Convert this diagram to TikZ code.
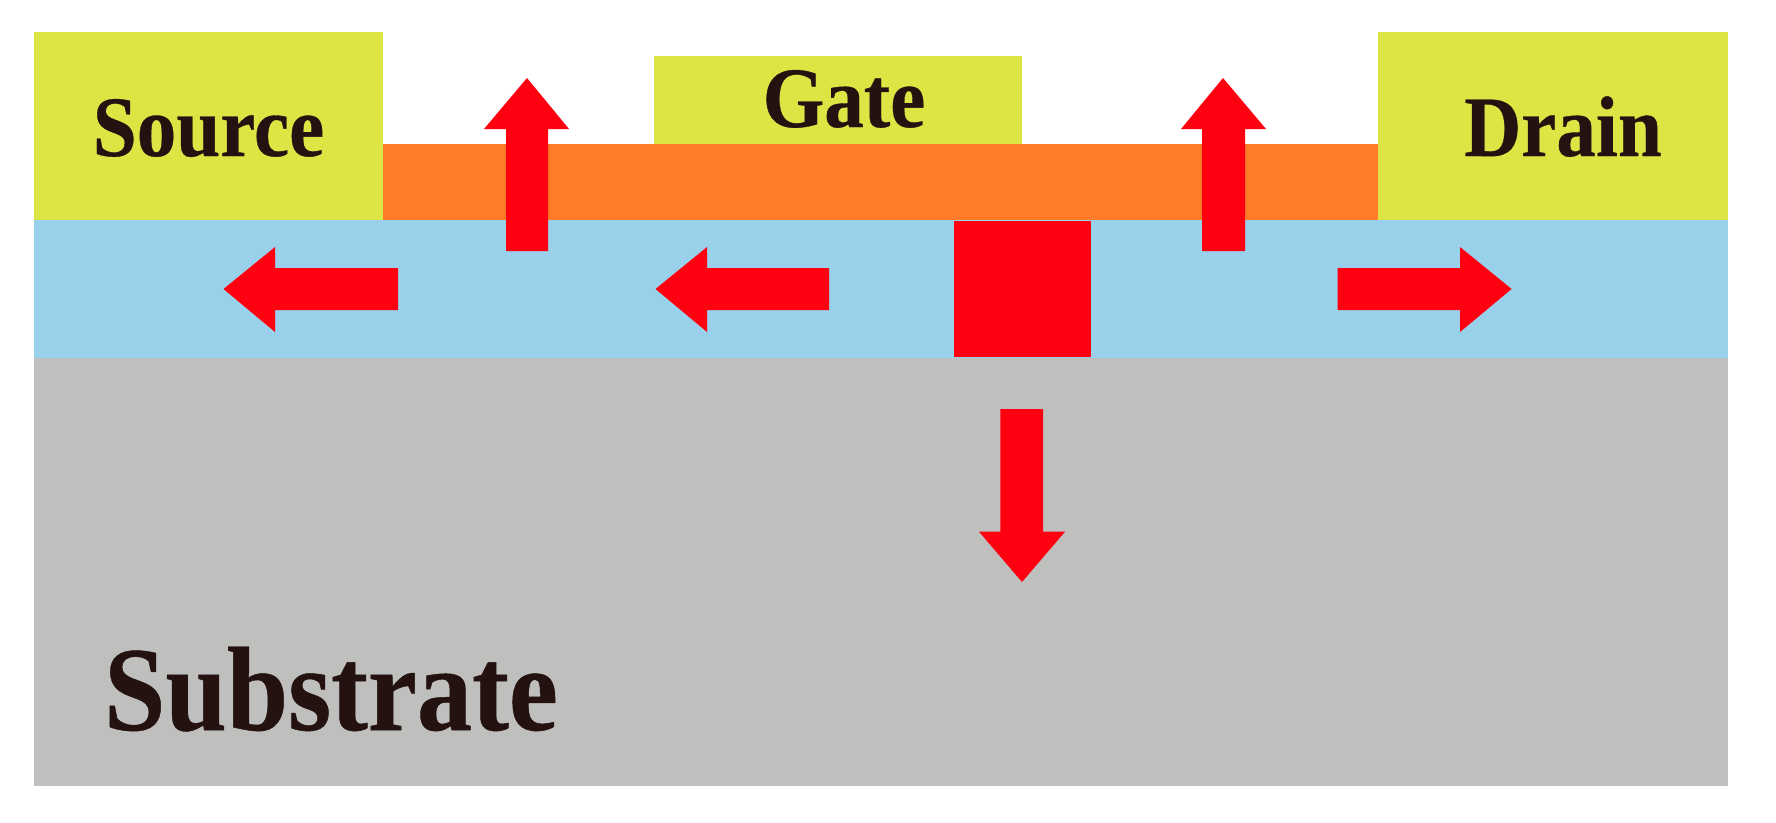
\documentclass[tikz,border=0pt]{standalone}
\usepackage{fontspec}
\usepackage{graphicx}
\setmainfont{Liberation Serif}[BoldFeatures={FakeBold=0.4}]
\definecolor{metal}{HTML}{DDE545}
\definecolor{oxide}{HTML}{FF7B29}
\definecolor{chan}{HTML}{99D0EA}
\definecolor{subst}{HTML}{BFBFBD}
\definecolor{hot}{HTML}{FF0010}
\definecolor{ink}{HTML}{231210}
\newcommand{\narrow}[1]{\scalebox{0.92}[1]{#1}}
\begin{document}
\begin{tikzpicture}[x=1pt,y=-1pt,
  lbl/.style={inner sep=0pt,anchor=base,text=ink,font=\bfseries\fontsize{86}{86}\selectfont},
  arr/.style={fill=hot}]
\useasboundingbox (0,0) rectangle (1776,822);
\fill[white] (0,0) rectangle (1776,822);
% layers
\fill[subst] (34,358) rectangle (1728,786);
\fill[chan] (34,220) rectangle (1728,358);
\fill[oxide] (383,144) rectangle (1378,220);
\fill[metal] (34,32) rectangle (383,220);
\fill[metal] (1378,32) rectangle (1728,220);
\fill[metal] (654,56) rectangle (1022,144);
\fill[hot] (954,221) rectangle (1091,357);
% labels
\node[lbl] (source) at (208.5,156) {\narrow{Source}};
\node[lbl] (gate) at (844,127) {\narrow{Gate}};
\node[lbl] (drain) at (1563,156) {\narrow{Drain}};
\node[lbl,font=\bfseries\fontsize{120}{120}\selectfont] (substrate) at (331,730) {\narrow{Substrate}};
% up arrows
\fill[arr] (506,251) -- (506,129) -- (484,129) -- (527,78) -- (569,129) -- (548,129) -- (548,251) -- cycle;
\fill[arr] (1202,251) -- (1202,129) -- (1181,129) -- (1223,78) -- (1266,129) -- (1245,129) -- (1245,251) -- cycle;
% left arrows
\fill[arr] (398,268) -- (275,268) -- (275,247) -- (223.5,289) -- (275,332) -- (275,310) -- (398,310) -- cycle;
\fill[arr] (829,268) -- (707,268) -- (707,247) -- (655.5,289) -- (707,332) -- (707,310) -- (829,310) -- cycle;
% right arrow
\fill[arr] (1337.5,268) -- (1460,268) -- (1460,247) -- (1511.6,289) -- (1460,332) -- (1460,310) -- (1337.5,310) -- cycle;
% down arrow
\fill[arr] (1000.4,409) -- (1043,409) -- (1043,531.7) -- (1065,531.7) -- (1022,582) -- (979,531.7) -- (1000.4,531.7) -- cycle;
\end{tikzpicture}
\end{document}
